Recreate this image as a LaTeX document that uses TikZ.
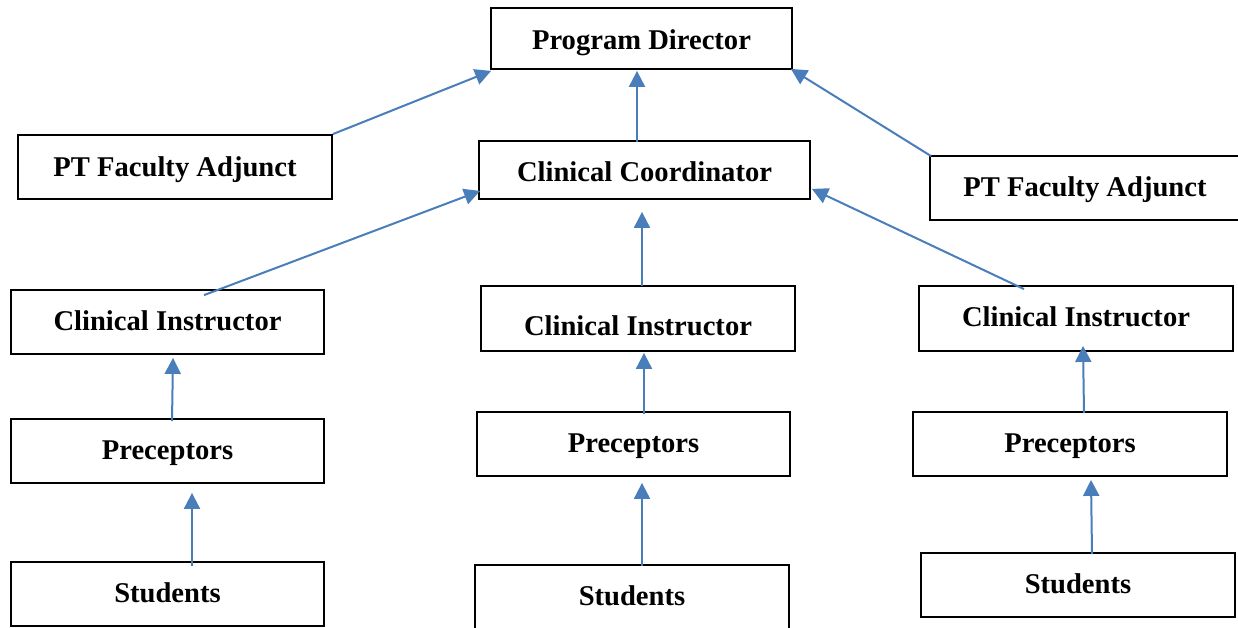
\documentclass[tikz,border=0pt]{standalone}
\usepackage{fontspec}
\setmainfont{Liberation Serif}
\usetikzlibrary{arrows.meta,calc}
\definecolor{arrowblue}{HTML}{4A7EBB}
\tikzset{
  orgbox/.style={draw=black, line width=1.8pt, fill=white, inner sep=0pt,
    font=\fontsize{28.6}{34}\selectfont\bfseries,
    text height=21.5pt, text depth=5.5pt},
  link/.style={draw=arrowblue, line width=2pt,
    -{Triangle[length=16pt,width=16pt]}}
}
\begin{document}
\begin{tikzpicture}[x=1pt,y=-1pt]
\useasboundingbox[fill=white] (0,0) rectangle (1238,627);
% boxes
\node[orgbox, text height=26.5pt, minimum width=301pt, minimum height=61pt] (pd)  at (641.5,38.5) {Program Director};
\node[orgbox, text height=23.5pt, minimum width=314pt, minimum height=64pt] (ptl) at (175,167) {PT Faculty Adjunct};
\node[orgbox, text height=27.5pt, minimum width=331pt, minimum height=58pt] (cc)  at (644.5,170) {Clinical Coordinator};
\node[orgbox, minimum width=310pt, minimum height=64pt] (ptr) at (1085,188) {PT Faculty Adjunct};
\node[orgbox, minimum width=313pt, minimum height=64pt] (cil) at (167.5,322) {Clinical Instructor};
\node[orgbox, text height=38.5pt, minimum width=314pt, minimum height=65pt] (cim) at (638,318.5) {Clinical Instructor};
\node[orgbox, minimum width=314pt, minimum height=65pt] (cir) at (1076,318.5) {Clinical Instructor};
\node[orgbox, minimum width=313pt, minimum height=64pt] (prl) at (167.5,451) {Preceptors};
\node[orgbox, minimum width=313pt, minimum height=64pt] (prm) at (633.5,444) {Preceptors};
\node[orgbox, minimum width=314pt, minimum height=64pt] (prr) at (1070,444) {Preceptors};
\node[orgbox, minimum width=313pt, minimum height=64pt] (stl) at (167.5,594) {Students};
\node[orgbox, minimum width=314pt, minimum height=65pt] (stm) at (632,597.5) {Students};
\node[orgbox, minimum width=314pt, minimum height=64pt] (str) at (1078,585) {Students};
% connectors
\draw[link] (ptl.north east) -- ($(pd.south west)+(1,1)$);
\draw[link] ($(cc.north)+(-7.5,2)$) -- ($(pd.south)+(-4.5,1)$);
\draw[link] ($(ptr.north west)+(2,1)$) -- ($(pd.south east)+(-2,-1)$);
\draw[link] ($(cil.north)+(36.5,6)$) -- ($(cc.south west)+(2,-9)$);
\draw[link] ($(cim.north)+(4,1)$) -- ($(cc.south)+(-2.5,12)$);
\draw[link] ($(cir.north)+(-52,4)$) -- ($(cc.south east)+(1,-11)$);
\draw[link] ($(prl.north)+(4.5,3)$) -- ($(cil.south)+(5.5,3)$);
\draw[link] ($(prm.north)+(10.5,3)$) -- ($(cim.south)+(6,1)$);
\draw[link] ($(prr.north)+(14,2)$) -- ($(cir.south)+(7,-6)$);
\draw[link] ($(stl.north)+(24.5,5)$) -- ($(prl.south)+(24.5,9)$);
\draw[link] ($(stm.north)+(10,2)$) -- ($(prm.south)+(8.5,6)$);
\draw[link] ($(str.north)+(14,2)$) -- ($(prr.south)+(21,3)$);
\end{tikzpicture}
\end{document}
